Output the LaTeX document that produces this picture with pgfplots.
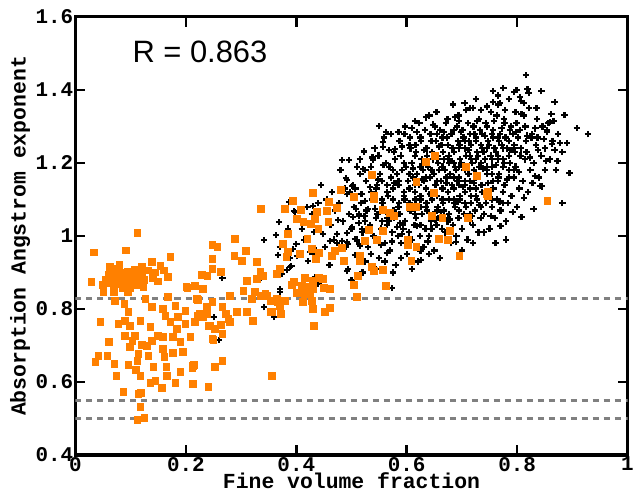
\documentclass[border=0pt]{standalone}
\usepackage{fontspec}
\setmainfont{Liberation Sans}
\setmonofont{Liberation Mono}
\usepackage{pgfplots}
\pgfplotsset{compat=1.18}
\definecolor{myorange}{RGB}{255,128,0}
\definecolor{dashgray}{RGB}{128,128,128}
\pgfdeclareplotmark{bplus}{%
  \pgfsetlinewidth{2.2bp}%
  \pgfsetbuttcap
  \pgfpathmoveto{\pgfqpoint{-\pgfplotmarksize}{0pt}}%
  \pgfpathlineto{\pgfqpoint{\pgfplotmarksize}{0pt}}%
  \pgfpathmoveto{\pgfqpoint{0pt}{-\pgfplotmarksize}}%
  \pgfpathlineto{\pgfqpoint{0pt}{\pgfplotmarksize}}%
  \pgfusepathqstroke}
\begin{document}
\begin{tikzpicture}
\begin{axis}[
  at={(0,0)}, anchor=south west,
  scale only axis, width=552bp, height=438bp,
  xmin=0, xmax=1, ymin=0.4, ymax=1.6,
  xtick={0,0.2,0.4,0.6,0.8,1}, ytick={0.4,0.6,0.8,1,1.2,1.4,1.6},
  xticklabels={0,0.2,0.4,0.6,0.8,1},
  yticklabels={0.4,0.6,0.8,1,1.2,1.4,1.6},
  axis line style={line width=3bp},
  tick style={line width=2.5bp, black},
  major tick length=10bp,
  tick align=inside,
  ticklabel style={font=\fontsize{21}{21}\selectfont\ttfamily\bfseries},
  xticklabel style={inner sep=0pt, yshift=-2bp},
  yticklabel style={inner sep=2bp},
  every axis x label/.style={at={(axis description cs:0.5,-0.0776)}, anchor=base, inner sep=0pt, text height=13bp, font=\fontsize{21.5}{21.5}\selectfont\ttfamily\bfseries},
  every axis y label/.style={at={(axis description cs:-0.0905,0.5)}, rotate=90, anchor=base, inner sep=0pt, font=\fontsize{21.5}{21.5}\selectfont\ttfamily\bfseries},
  xlabel={Fine volume fraction},
  ylabel={Absorption Angstrom exponent},
]
% black crosses
\addplot[only marks, mark=bplus, mark size=3.2bp, black] coordinates {
(0.816,1.441)(0.756,1.397)(0.799,1.400)(0.819,1.403)(0.821,1.392)(0.844,1.397)(0.805,1.381)(0.756,1.367)(0.769,1.364)(0.720,1.351)
(0.868,1.367)(0.835,1.351)(0.886,1.332)(0.908,1.296)(0.928,1.279)(0.895,1.173)(0.890,1.255)(0.873,1.205)(0.882,1.230)(0.882,1.090)
(0.830,1.074)(0.808,1.052)(0.770,1.027)(0.761,0.981)(0.689,0.984)(0.631,0.970)(0.841,1.137)(0.845,1.136)(0.832,1.164)(0.850,1.181)
(0.863,1.252)(0.859,1.312)(0.866,1.315)(0.854,1.285)
(0.266,0.885)(0.266,0.803)(0.251,0.778)(0.260,0.715)(0.342,0.989)(0.363,1.003)(0.369,1.038)(0.396,1.068)(0.387,1.093)(0.430,1.082)
(0.428,1.060)(0.367,0.948)(0.389,0.940)(0.400,0.978)(0.401,0.945)(0.421,0.932)(0.430,0.951)(0.391,0.918)(0.383,0.907)(0.374,0.896)
(0.336,0.885)(0.342,0.805)(0.360,0.778)(0.371,0.847)(0.434,0.888)(0.432,1.011)(0.476,1.044)(0.474,1.005)(0.474,0.981)(0.492,1.008)
(0.492,0.984)(0.483,0.986)(0.490,0.970)(0.506,0.948)(0.494,0.910)(0.492,0.904)(0.501,1.137)(0.492,1.115)(0.492,1.153)(0.503,1.052)
(0.514,0.978)(0.483,1.208)(0.495,1.208)(0.523,1.230)(0.490,1.159)(0.503,1.140)(0.564,0.953)(0.626,0.934)(0.573,0.858)(0.425,0.956)
(0.394,0.964)(0.371,0.901)(0.389,0.915)(0.398,1.066)(0.448,1.005)(0.461,0.986)(0.501,1.025)(0.506,0.992)(0.515,0.973)(0.494,0.978)
(0.524,1.055)(0.524,1.041)(0.514,1.055)(0.550,1.301)(0.571,1.279)(0.609,1.296)(0.523,1.233)(0.539,1.208)(0.557,1.258)(0.557,1.244)
(0.579,1.238)(0.521,1.184)(0.524,1.096)(0.530,1.074)(0.523,1.055)(0.519,1.019)(0.591,1.005)(0.618,1.027)(0.593,1.030)(0.371,0.855)
(0.455,1.10)(0.465,1.12)(0.470,1.07)(0.478,1.09)(0.485,1.04)(0.488,1.13)(0.495,1.06)(0.462,1.03)(0.452,0.97)(0.440,1.09)
(0.445,1.14)(0.420,1.08)(0.410,1.02)(0.415,0.99)(0.435,0.96)(0.468,0.99)(0.480,1.18)(0.510,1.19)(0.525,0.93)(0.535,0.95)
(0.545,0.91)(0.560,0.93)(0.575,0.90)(0.590,0.94)(0.610,0.91)(0.625,0.96)(0.640,0.95)(0.660,0.94)(0.700,0.96)(0.720,0.98)
(0.740,1.01)(0.780,0.99)(0.440,0.87)(0.460,0.92)(0.500,0.88)(0.520,0.90)(0.370,0.97)(0.385,1.02)
(0.500,1.02)(0.504,1.08)(0.497,1.12)
(0.510,0.99)(0.514,1.06)(0.507,1.13)(0.516,1.17)
(0.520,1.01)(0.524,1.04)(0.517,1.09)(0.526,1.15)(0.515,1.21)
(0.530,0.97)(0.534,1.03)(0.527,1.07)(0.536,1.12)(0.525,1.18)
(0.540,1.00)(0.544,1.05)(0.537,1.10)(0.546,1.14)(0.535,1.19)(0.542,1.24)
(0.550,0.94)(0.554,1.02)(0.547,1.06)(0.556,1.09)(0.545,1.13)(0.552,1.17)(0.549,1.22)
(0.560,0.98)(0.564,1.03)(0.557,1.08)(0.566,1.11)(0.555,1.15)(0.562,1.20)(0.559,1.27)
(0.570,0.96)(0.574,1.01)(0.567,1.04)(0.576,1.07)(0.565,1.12)(0.572,1.16)(0.569,1.19)(0.577,1.23)
(0.580,0.92)(0.584,1.00)(0.577,1.05)(0.586,1.09)(0.575,1.13)(0.582,1.17)(0.579,1.21)(0.587,1.26)
(0.590,0.98)(0.594,1.02)(0.587,1.06)(0.596,1.10)(0.585,1.14)(0.592,1.18)(0.589,1.22)(0.597,1.30)
(0.600,0.95)(0.604,1.01)(0.597,1.04)(0.606,1.08)(0.595,1.11)(0.602,1.15)(0.599,1.19)(0.607,1.24)(0.596,1.28)
(0.610,0.99)(0.614,1.03)(0.607,1.07)(0.616,1.10)(0.605,1.13)(0.612,1.16)(0.609,1.20)(0.617,1.23)(0.606,1.27)
(0.620,0.93)(0.624,1.00)(0.617,1.05)(0.626,1.08)(0.615,1.12)(0.622,1.14)(0.619,1.17)(0.627,1.21)(0.616,1.25)(0.623,1.31)
(0.630,0.97)(0.634,1.02)(0.627,1.06)(0.636,1.09)(0.625,1.11)(0.632,1.15)(0.629,1.18)(0.637,1.22)(0.626,1.26)(0.633,1.29)
(0.640,1.00)(0.644,1.04)(0.637,1.07)(0.646,1.10)(0.635,1.13)(0.642,1.16)(0.639,1.19)(0.647,1.21)(0.636,1.24)(0.643,1.28)(0.641,1.33)
(0.650,0.96)(0.654,1.03)(0.647,1.06)(0.656,1.08)(0.645,1.12)(0.652,1.14)(0.649,1.17)(0.657,1.20)(0.646,1.23)(0.653,1.26)(0.651,1.30)
(0.660,0.99)(0.664,1.02)(0.657,1.05)(0.666,1.09)(0.655,1.11)(0.662,1.15)(0.659,1.18)(0.667,1.21)(0.656,1.22)(0.663,1.25)(0.661,1.29)(0.654,1.34)
(0.670,1.01)(0.674,1.04)(0.667,1.07)(0.676,1.10)(0.665,1.13)(0.672,1.16)(0.669,1.18)(0.677,1.20)(0.666,1.23)(0.673,1.27)(0.671,1.31)
(0.680,0.98)(0.684,1.03)(0.677,1.06)(0.686,1.09)(0.675,1.12)(0.682,1.14)(0.679,1.17)(0.687,1.19)(0.676,1.22)(0.683,1.24)(0.681,1.28)(0.674,1.32)
(0.690,1.00)(0.694,1.05)(0.687,1.08)(0.696,1.11)(0.685,1.13)(0.692,1.15)(0.689,1.18)(0.697,1.21)(0.686,1.23)(0.693,1.26)(0.691,1.30)(0.684,1.36)
(0.700,1.02)(0.704,1.06)(0.697,1.10)(0.706,1.12)(0.695,1.16)(0.702,1.19)(0.699,1.20)(0.707,1.22)(0.696,1.25)(0.703,1.27)(0.701,1.29)(0.694,1.33)
(0.710,0.99)(0.714,1.04)(0.707,1.08)(0.716,1.11)(0.705,1.14)(0.712,1.17)(0.709,1.19)(0.717,1.21)(0.706,1.24)(0.713,1.26)(0.711,1.31)
(0.720,1.03)(0.724,1.07)(0.717,1.09)(0.726,1.13)(0.715,1.15)(0.722,1.18)(0.719,1.20)(0.727,1.23)(0.716,1.25)(0.723,1.28)(0.721,1.30)(0.714,1.35)
(0.730,1.01)(0.734,1.05)(0.727,1.10)(0.736,1.12)(0.725,1.16)(0.732,1.19)(0.729,1.22)(0.737,1.24)(0.726,1.27)(0.733,1.29)(0.731,1.32)
(0.740,1.06)(0.744,1.09)(0.737,1.14)(0.746,1.17)(0.735,1.20)(0.742,1.21)(0.739,1.23)(0.747,1.26)(0.736,1.28)(0.743,1.31)
(0.750,1.02)(0.754,1.08)(0.747,1.11)(0.756,1.15)(0.745,1.18)(0.752,1.22)(0.749,1.25)(0.757,1.27)(0.746,1.30)(0.753,1.34)
(0.760,1.05)(0.764,1.10)(0.757,1.13)(0.766,1.16)(0.755,1.19)(0.762,1.23)(0.759,1.24)(0.767,1.26)(0.756,1.29)(0.763,1.33)
(0.770,1.07)(0.774,1.12)(0.767,1.17)(0.776,1.20)(0.765,1.22)(0.772,1.25)(0.769,1.28)(0.777,1.31)(0.766,1.36)
(0.780,1.04)(0.784,1.09)(0.777,1.14)(0.786,1.18)(0.775,1.21)(0.782,1.24)(0.779,1.27)(0.787,1.29)(0.776,1.32)
(0.790,1.11)(0.794,1.16)(0.787,1.20)(0.796,1.23)(0.785,1.26)(0.792,1.28)(0.789,1.30)(0.797,1.34)
(0.800,1.08)(0.804,1.13)(0.797,1.19)(0.806,1.22)(0.795,1.25)(0.802,1.27)(0.799,1.31)(0.807,1.37)
(0.810,1.15)(0.814,1.21)(0.807,1.24)(0.816,1.26)(0.805,1.29)(0.812,1.33)
(0.820,1.12)(0.824,1.18)(0.817,1.23)(0.826,1.27)(0.815,1.30)(0.822,1.35)
(0.830,1.20)(0.834,1.25)(0.827,1.28)(0.836,1.32)
(0.840,1.16)(0.844,1.22)(0.837,1.27)(0.846,1.30)
(0.850,1.24)(0.854,1.29)(0.860,1.21)(0.864,1.26)(0.857,1.31)(0.870,1.18)(0.874,1.28)
(0.605,1.09)(0.605,1.17)(0.605,1.25)(0.615,1.06)(0.615,1.14)(0.615,1.22)(0.625,1.10)(0.625,1.19)(0.625,1.27)(0.625,1.03)
(0.635,1.08)(0.635,1.16)(0.635,1.24)(0.645,1.11)(0.645,1.18)(0.645,1.26)(0.645,1.02)(0.655,1.07)(0.655,1.15)(0.655,1.21)(0.655,1.28)
(0.665,1.10)(0.665,1.13)(0.665,1.19)(0.665,1.27)(0.675,1.05)(0.675,1.12)(0.675,1.21)(0.675,1.25)(0.685,1.10)(0.685,1.16)(0.685,1.20)(0.685,1.29)
(0.695,1.07)(0.695,1.14)(0.695,1.19)(0.695,1.24)(0.705,1.09)(0.705,1.15)(0.705,1.18)(0.705,1.26)(0.715,1.06)(0.715,1.13)(0.715,1.22)(0.715,1.28)
(0.725,1.11)(0.725,1.17)(0.725,1.21)(0.725,1.26)(0.735,1.08)(0.735,1.14)(0.735,1.20)(0.735,1.25)(0.745,1.12)(0.745,1.19)(0.745,1.24)
(0.755,1.10)(0.755,1.17)(0.755,1.21)(0.755,1.28)(0.765,1.15)(0.765,1.21)(0.765,1.27)(0.775,1.09)(0.775,1.19)(0.775,1.24)
(0.785,1.16)(0.785,1.22)(0.785,1.26)(0.795,1.18)(0.795,1.24)(0.575,1.10)(0.575,1.18)(0.585,1.08)(0.585,1.15)(0.595,1.12)(0.595,1.20)
(0.565,1.05)(0.565,1.14)(0.555,1.10)(0.555,1.04)
(0.588,1.035)(0.592,1.245)(0.603,0.975)(0.611,1.185)(0.618,1.285)(0.628,1.155)(0.631,1.235)(0.638,0.985)(0.642,1.115)(0.648,1.305)
(0.652,1.045)(0.658,1.245)(0.662,1.065)(0.668,1.285)(0.672,1.145)(0.678,1.045)(0.682,1.205)(0.688,1.325)(0.692,1.095)(0.698,1.285)
(0.702,1.135)(0.708,1.345)(0.712,1.235)(0.718,1.055)(0.722,1.145)(0.728,1.315)(0.732,1.085)(0.738,1.185)(0.742,1.275)(0.748,1.145)
(0.752,1.055)(0.758,1.315)(0.762,1.195)(0.768,1.095)(0.772,1.295)(0.778,1.345)(0.782,1.155)(0.788,1.235)(0.792,1.065)(0.798,1.285)
(0.803,1.175)(0.808,1.335)(0.813,1.105)(0.818,1.275)(0.823,1.215)(0.828,1.145)(0.833,1.295)(0.838,1.235)(0.848,1.265)(0.853,1.205)
(0.862,1.335)(0.868,1.235)(0.878,1.255)(0.745,1.355)(0.765,1.385)(0.785,1.375)(0.735,1.345)(0.795,1.395)(0.775,1.405)(0.812,1.365)
(0.705,1.365)(0.695,1.315)(0.725,1.375)
(0.543,1.075)(0.548,1.155)(0.553,0.975)(0.558,1.195)(0.563,1.065)(0.568,1.235)(0.573,0.985)(0.578,1.145)(0.583,1.025)(0.533,1.135)
(0.528,1.015)(0.518,1.115)(0.508,1.075)(0.513,1.035)(0.538,1.215)(0.562,1.285)(0.585,1.285)(0.615,1.315)(0.635,1.325)
};
% orange squares
\addplot[myorange, only marks, mark=square*, mark size=3.3bp, mark options={fill=myorange, draw=myorange, line width=0pt}] coordinates {
(0.112,1.008)(0.034,0.955)(0.092,0.960)(0.029,0.874)(0.172,0.942)(0.168,0.888)(0.139,0.929)(0.121,0.915)(0.154,0.918)(0.123,0.860)
(0.051,0.847)(0.072,0.822)(0.089,0.814)(0.096,0.792)(0.127,0.827)(0.139,0.805)(0.159,0.800)(0.168,0.833)(0.181,0.808)(0.199,0.795)
(0.045,0.764)(0.078,0.759)(0.090,0.767)(0.099,0.753)(0.118,0.767)(0.136,0.751)(0.163,0.781)(0.172,0.764)(0.186,0.778)(0.184,0.745)
(0.199,0.759)(0.217,0.764)(0.231,0.778)(0.239,0.800)(0.090,0.726)(0.108,0.726)(0.103,0.712)(0.099,0.696)(0.121,0.701)(0.130,0.699)
(0.139,0.712)(0.150,0.726)(0.159,0.723)(0.177,0.723)(0.190,0.710)(0.208,0.723)(0.061,0.710)(0.114,0.677)(0.112,0.658)(0.132,0.671)
(0.159,0.690)(0.161,0.668)(0.177,0.679)(0.195,0.682)(0.042,0.671)(0.036,0.655)(0.058,0.671)(0.071,0.649)(0.096,0.647)(0.110,0.633)
(0.118,0.616)(0.141,0.641)(0.165,0.641)(0.166,0.616)(0.190,0.627)(0.215,0.647)(0.212,0.638)(0.074,0.616)(0.136,0.597)(0.145,0.603)
(0.157,0.584)(0.181,0.597)(0.213,0.595)(0.241,0.586)(0.087,0.573)(0.114,0.567)(0.119,0.570)(0.118,0.532)(0.112,0.496)(0.125,0.501)
(0.248,0.975)(0.248,0.937)(0.248,0.910)(0.230,0.893)(0.239,0.890)(0.217,0.863)(0.231,0.855)(0.203,0.858)(0.222,0.825)(0.248,0.819)
(0.239,0.786)(0.222,0.781)(0.244,0.753)(0.248,0.718)
(0.055,0.880)(0.060,0.895)(0.062,0.870)(0.066,0.905)(0.068,0.885)(0.070,0.862)(0.072,0.892)(0.075,0.875)(0.077,0.910)(0.079,0.868)
(0.081,0.895)(0.083,0.882)(0.085,0.858)(0.086,0.900)(0.088,0.875)(0.090,0.888)(0.092,0.865)(0.094,0.903)(0.095,0.878)(0.098,0.890)
(0.100,0.858)(0.102,0.873)(0.104,0.896)(0.107,0.880)(0.110,0.866)(0.113,0.890)(0.116,0.876)(0.080,0.920)(0.070,0.847)(0.095,0.845)
(0.063,0.915)(0.108,0.907)(0.050,0.865)(0.120,0.895)(0.125,0.880)(0.131,0.905)(0.145,0.900)(0.160,0.905)(0.150,0.875)(0.140,0.885)
(0.336,1.074)(0.257,0.970)(0.289,0.992)(0.309,0.959)(0.288,0.945)(0.302,0.932)(0.329,0.929)(0.264,0.901)(0.335,0.901)(0.228,0.893)
(0.311,0.877)(0.329,0.882)(0.340,0.890)(0.365,0.896)(0.201,0.860)(0.304,0.849)(0.280,0.836)(0.325,0.847)(0.335,0.836)(0.347,0.836)
(0.365,0.827)(0.220,0.827)(0.320,0.827)(0.353,0.822)(0.367,0.819)(0.237,0.805)(0.266,0.805)(0.293,0.792)(0.311,0.792)(0.353,0.792)
(0.226,0.786)(0.273,0.786)(0.277,0.773)(0.322,0.767)(0.242,0.753)(0.253,0.745)(0.264,0.756)(0.280,0.764)(0.266,0.732)(0.250,0.715)
(0.266,0.658)(0.253,0.641)(0.356,0.616)(0.213,0.644)
(0.430,1.118)(0.481,1.126)(0.505,1.107)(0.394,1.096)(0.409,1.071)(0.380,1.074)(0.459,1.093)(0.438,1.066)(0.456,1.068)(0.474,1.077)
(0.401,1.047)(0.413,1.038)(0.427,1.033)(0.434,1.047)(0.458,1.038)(0.440,1.019)(0.385,1.005)(0.420,0.992)(0.376,0.978)(0.407,0.951)
(0.428,0.964)(0.441,0.953)(0.436,0.937)(0.483,0.967)(0.470,0.959)(0.465,0.945)(0.486,0.932)(0.382,0.942)(0.385,0.956)(0.371,0.910)
(0.396,0.874)(0.416,0.885)(0.430,0.877)(0.441,0.885)(0.448,0.882)(0.410,0.863)(0.420,0.860)(0.430,0.855)(0.450,0.858)(0.461,0.855)
(0.392,0.866)(0.401,0.844)(0.416,0.841)(0.425,0.841)(0.412,0.819)(0.428,0.822)(0.430,0.800)(0.452,0.792)(0.461,0.803)(0.432,0.753)
(0.505,0.866)(0.510,0.833)(0.512,0.890)(0.380,0.822)(0.371,0.808)(0.356,0.792)(0.372,0.786)(0.344,0.841)
(0.651,1.219)(0.635,1.203)(0.707,1.189)(0.727,1.164)(0.537,1.167)(0.618,1.148)(0.541,1.110)(0.541,1.101)(0.649,1.118)(0.745,1.115)
(0.606,1.079)(0.618,1.079)(0.557,1.071)(0.570,1.063)(0.577,1.055)(0.646,1.055)(0.665,1.049)(0.711,1.049)(0.532,1.016)(0.557,1.014)
(0.678,1.014)(0.524,0.986)(0.546,0.989)(0.602,0.989)(0.602,0.975)(0.618,0.970)(0.658,0.992)(0.675,0.989)(0.696,0.945)(0.515,0.945)
(0.515,0.932)(0.609,0.932)(0.537,0.915)(0.541,0.904)(0.557,0.907)(0.562,0.863)(0.747,1.121)(0.747,1.110)(0.855,1.096)
};
\addplot[dashgray, line width=3bp, dash pattern=on 6bp off 5bp] coordinates {(0,0.83) (1,0.83)};
\addplot[dashgray, line width=3bp, dash pattern=on 6bp off 5bp] coordinates {(0,0.55) (1,0.55)};
\addplot[dashgray, line width=3bp, dash pattern=on 6bp off 5bp] coordinates {(0,0.50) (1,0.50)};
\node[anchor=base west, inner sep=0pt, font=\fontsize{31}{31}\selectfont] at (axis cs:0.103,1.474) {R = 0.863};
\end{axis}
\pgfresetboundingbox
\path[use as bounding box] (-75.5bp,-38bp) rectangle (558.5bp,455bp);
\end{tikzpicture}
\end{document}
